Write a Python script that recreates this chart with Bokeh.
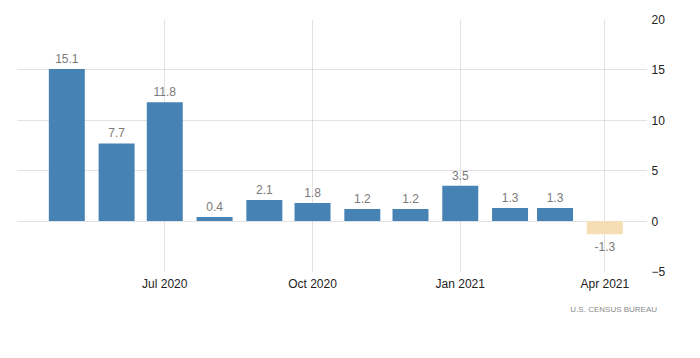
import pandas as pd
from datetime import datetime
from bokeh.plotting import figure
from bokeh.models import Range1d, FixedTicker, DatetimeTickFormatter, ColumnDataSource, Title
from bokeh.core.properties import value
from bokeh.embed import file_html
from bokeh.resources import INLINE

# ---- data ----
months = ["2020-05-01", "2020-06-01", "2020-07-01", "2020-08-01", "2020-09-01", "2020-10-01",
          "2020-11-01", "2020-12-01", "2021-01-01", "2021-02-01", "2021-03-01", "2021-04-01"]
values = [15.1, 7.7, 11.8, 0.4, 2.1, 1.8, 1.2, 1.2, 3.5, 1.3, 1.3, -1.3]
x_ticks = ["2020-07-01", "2020-10-01", "2021-01-01", "2021-04-01"]
y_ticks = [-5, 0, 5, 10, 15, 20]
source_text = "U.S.  CENSUS  BUREAU"

POS = "#4682B4"
NEG = "#F5DEB3"
LABEL_C = "#7a7a7a"
FONT = "Liberation Sans"

dates = pd.to_datetime(months)
colors = [POS if v >= 0 else NEG for v in values]
src = ColumnDataSource(dict(x=dates, top=values, color=colors))

p = figure(output_backend="svg", toolbar_location=None,
           x_axis_type="datetime", y_axis_location="right",
           frame_width=630, frame_height=252,
           min_border_left=17, min_border_top=19, min_border_right=36, min_border_bottom=55,
           x_range=Range1d(datetime(2020, 3, 31, 7), datetime(2021, 4, 27, 14)),
           y_range=Range1d(-5, 20))
p.outline_line_color = None
p.background_fill_color = "white"
p.border_fill_color = "white"

bar_w = 22.4 * 86400000
p.vbar(x="x", top="top", bottom=0, width=bar_w, color="color", source=src, line_color=None)

# value labels
pos_idx = [i for i, v in enumerate(values) if v >= 0]
neg_idx = [i for i, v in enumerate(values) if v < 0]
p.text(x=[dates[i] for i in pos_idx], y=[values[i] + 0.6 for i in pos_idx],
       text=[f"{values[i]:.1f}" for i in pos_idx],
       text_align="center", text_baseline="bottom", text_color=LABEL_C,
       text_font=value(FONT), text_font_size="12px")
p.text(x=[dates[i] for i in neg_idx], y=[values[i] - 0.75 for i in neg_idx],
       text=[f"{values[i]:.1f}" for i in neg_idx],
       text_align="center", text_baseline="top", text_color=LABEL_C,
       text_font=value(FONT), text_font_size="12px")

# axes
p.xaxis.ticker = FixedTicker(ticks=[pd.Timestamp(t).value // 10**6 for t in x_ticks])
fmt = "%b %Y"
p.xaxis.formatter = DatetimeTickFormatter(milliseconds=fmt, seconds=fmt, minsec=fmt, minutes=fmt,
                                          hourmin=fmt, hours=fmt, days=fmt, months=fmt, years=fmt)
p.yaxis.ticker = FixedTicker(ticks=y_ticks)
for ax in (p.xaxis, p.yaxis):
    ax.axis_line_color = None
    ax.major_tick_line_color = None
    ax.minor_tick_line_color = None
    ax.major_tick_in = 0
    ax.major_tick_out = 0
    ax.minor_tick_in = 0
    ax.minor_tick_out = 0
    ax.major_label_text_font = FONT
    ax.major_label_text_font_size = "12px"
    ax.major_label_text_color = "#222222"
p.xaxis.major_label_standoff = 5
p.yaxis.major_label_standoff = 4

for g in (p.xgrid, p.ygrid):
    g.grid_line_color = "#c4c4c4"
    g.grid_line_dash = "1 1"
    g.grid_line_width = 1
p.xgrid.ticker = p.xaxis.ticker
p.ygrid.ticker = p.yaxis.ticker

p.add_layout(Title(text=source_text, align="right", offset=-14, standoff=19,
                   text_font=FONT, text_font_size="8px", text_font_style="normal",
                   text_color="#8a8a8a"), "below")

open("out.html", "w").write(file_html(p, INLINE))
